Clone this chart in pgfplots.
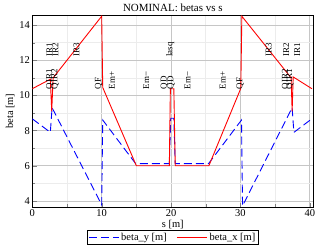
\documentclass[border=0pt]{standalone}
\usepackage{fontspec}
\setmainfont{Liberation Serif}
\usepackage{pgfplots}
\pgfplotsset{compat=1.18}
\begin{document}
\begin{tikzpicture}
\useasboundingbox (-32.3bp,-44.7bp) rectangle (295.7bp,207.3bp);
\begin{axis}[
 scale only axis, width=281bp, height=192.3bp,
 xmin=0, xmax=40.5, ymin=3.64, ymax=14.57,
 xtick={0,10,20,30,40}, minor xtick={5,15,25,35},
 ytick={4,6,8,10,12,14}, minor ytick={5,7,9,11,13},
 grid=both,
 major grid style={gray!45, line width=0.9pt},
 minor grid style={gray!15, line width=0.6pt},
 tick pos=left,
 tick label style={font=\fontsize{10.5}{11}\selectfont},
 xticklabel style={yshift=1bp},
 yticklabel style={xshift=1bp},
 /pgf/number format/assume math mode=true,
 xlabel={s [m]}, ylabel={beta [m]},
 label style={font=\fontsize{10.5}{11}\selectfont},
 xlabel style={yshift=3bp},
 ylabel style={yshift=-2bp},
 title={NOMINAL: betas vs s},
 title style={font=\fontsize{11}{12}\selectfont, at={(0.5,1)}, anchor=south, inner sep=1.5bp, yshift=-4bp},
 legend style={at={(0.5,-0.156)}, anchor=center, legend columns=2, font=\fontsize{10.5}{11}\selectfont,
   draw=black, inner sep=0.8bp, /tikz/every even column/.append style={column sep=8pt}},
 legend image code/.code={\draw[#1] (0bp,0bp) -- (30bp,0bp);},
]
\addplot[blue, line width=0.9pt, dash pattern=on 8bp off 4bp] coordinates {
 (0,8.67) (2.6,7.9) (2.85,9.3) (10.0,3.78) (10.15,8.6) (14.9,6.12) (19.75,6.12)
 (19.95,8.7) (20.4,8.7) (20.6,6.12) (25.4,6.12) (30.15,8.6) (30.3,3.72)
 (37.45,9.3) (37.7,7.9) (40.3,8.67)
};
\addlegendentry{beta\_y [m]}
\addplot[red, line width=0.9pt] coordinates {
 (0,10.38) (2.6,10.92) (2.8,9.1) (3.0,11.0) (10.0,14.5) (10.15,10.45) (15.0,6.0)
 (19.75,6.0) (19.9,10.38) (20.4,10.38) (20.6,6.0) (25.45,6.0) (30.05,10.4)
 (30.2,14.5) (37.3,11.0) (37.45,9.1) (37.6,11.05) (40.3,10.38)
};
\addlegendentry{beta\_x [m]}
\tikzset{lab/.style={rotate=90, anchor=base west, inner sep=0pt, font=\fontsize{9}{10}\selectfont}}
\node[lab] at (axis cs:2.9,12.2) {IR1};
\node[lab] at (axis cs:3.75,12.2) {IR2};
\node[lab] at (axis cs:6.77,12.2) {IR3};
\node[lab] at (axis cs:20.2,12.2) {lasq};
\node[lab] at (axis cs:34.5,12.2) {IR3};
\node[lab] at (axis cs:37.0,12.2) {IR2};
\node[lab] at (axis cs:38.6,12.2) {IR1};
\node[lab] at (axis cs:2.84,10.35) {QIR1};
\node[lab] at (axis cs:3.6,10.35) {QIR2};
\node[lab] at (axis cs:9.9,10.35) {QF};
\node[lab] at (axis cs:11.9,10.35) {Em+};
\node[lab] at (axis cs:16.85,10.35) {Em−};
\node[lab] at (axis cs:19.37,10.35) {QD};
\node[lab] at (axis cs:20.32,10.35) {QD};
\node[lab] at (axis cs:22.8,10.35) {Em−};
\node[lab] at (axis cs:27.87,10.35) {Em+};
\node[lab] at (axis cs:30.26,10.35) {QF};
\node[lab] at (axis cs:36.85,10.35) {QIR2};
\node[lab] at (axis cs:37.45,10.35) {QIR1};
\end{axis}
\end{tikzpicture}
\end{document}
